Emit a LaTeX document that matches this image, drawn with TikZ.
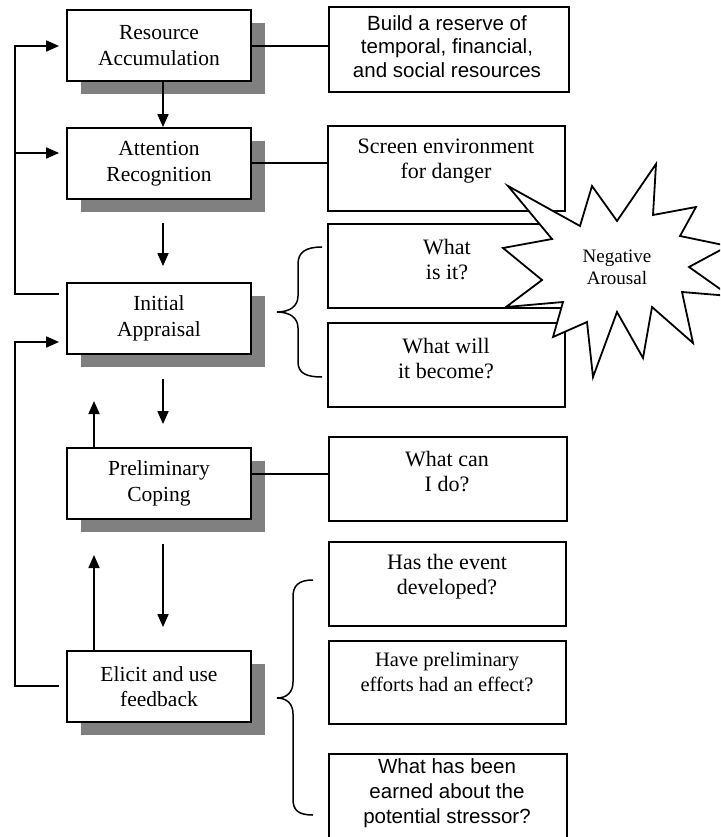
\documentclass[tikz,border=0pt]{standalone}
\usepackage{fontspec}
\setmainfont{Liberation Serif}
\newfontfamily\sansf{Liberation Sans}
\usetikzlibrary{arrows.meta,shadows}
\definecolor{shadowgray}{RGB}{128,128,128}
\begin{document}
\begin{tikzpicture}[x=1pt,y=-1pt,
  lbox/.style={draw, fill=white, line width=1.8pt, minimum width=184pt, minimum height=71pt, inner sep=0pt, align=center, font=\fontsize{21.5}{25.5}\selectfont, drop shadow={shadow xshift=13.5pt, shadow yshift=-13pt, fill=shadowgray, opacity=1}},
  rbox/.style={draw, fill=white, line width=1.8pt, minimum width=237pt, minimum height=84pt, inner sep=0pt},
  rtext/.style={inner sep=0pt, align=center, font=\fontsize{22}{25}\selectfont},
  stext/.style={inner sep=0pt, align=center, font=\sansf\fontsize{20.5}{23.5}\selectfont},
  conn/.style={line width=1.7pt},
  arr/.style={line width=1.7pt, -{Triangle[length=13pt,width=11pt]}},
  brace/.style={line width=1.5pt},
  star/.style={draw, fill=white, line width=1.8pt, line join=miter}
]
\useasboundingbox (0,0) rectangle (720,837);
\clip (0,0) rectangle (720,837);

% left column
\node[lbox] (RA) at (159,45.5) {Resource\\Accumulation};
\node[lbox] (AR) at (159,163.5) {Attention\\Recognition};
\node[lbox] (IA) at (159,318.5) {Initial\\Appraisal};
\node[lbox] (PC) at (159,483.5) {Preliminary\\Coping};
\node[lbox] (EL) at (159,686.5) {Elicit and use\\feedback};

% right column
\node[rbox, minimum width=240pt, minimum height=85pt] (BR) at (449,49.5) {};
\node[stext] (BRt) at (447,46.5) {Build a reserve of\\temporal, financial,\\and social resources};
\node[rbox, minimum height=85pt] (SC) at (446.5,168.5) {};
\node[rtext] (SCt) at (446,161.5) {Screen environment\\for danger};
\node[rbox] (WI) at (446.5,266) {};
\node[rtext] (WIt) at (447,259.5) {What\\is it?};
\node[rbox] (WW) at (446.5,365) {};
\node[rtext] (WWt) at (446,358.5) {What will\\it become?};
\node[rbox, minimum width=238pt] (WC) at (448,479) {};
\node[rtext] (WCt) at (447,472) {What can\\I do?};
\node[rbox] (HE) at (447.5,584) {};
\node[rtext] (HEt) at (447,576.5) {Has the event\\developed?};
\node[rbox, minimum height=83pt] (HP) at (447.5,682.5) {};
\node[rtext, font=\fontsize{20.5}{25}\selectfont] (HPt) at (447,672.5) {Have preliminary\\efforts had an effect?};
\node[rbox, minimum width=238pt, minimum height=96pt] (WH) at (448,802) {};
\node[stext, font=\sansf\fontsize{20.5}{25}\selectfont] (WHt) at (447,793) {What has been\\earned about the\\potential stressor?};

% horizontal connectors
\draw[conn] ([yshift=-0.5pt]RA.east) -- ([yshift=-0.5pt]RA.east -| BR.west);
\draw[conn] ([yshift=0.5pt]AR.east) -- ([yshift=0.5pt]AR.east -| SC.west);
\draw[conn] ([yshift=9.5pt]PC.east) -- ([yshift=9.5pt]PC.east -| WC.west);

% downward arrows
\draw[arr] ([xshift=4pt]RA.south) -- ([xshift=4pt]AR.north);
\draw[arr, shorten <=23.5pt, shorten >=16pt] ([xshift=4pt]AR.south) -- ([xshift=4pt]IA.north);
\draw[arr, shorten <=24pt, shorten >=23pt] ([xshift=4pt]IA.south) -- ([xshift=4pt]PC.north);
\draw[arr, shorten <=24pt, shorten >=23pt] ([xshift=4pt]PC.south) -- ([xshift=4pt]EL.north);

% upward arrows
\coordinate (U1) at (94,401);
\coordinate (U2) at (94,555);
\draw[arr] (PC.north -| U1) -- (U1);
\draw[arr] (EL.north -| U2) -- (U2);

% feedback loops
\coordinate (L1) at (15,294);
\coordinate (L2) at (15,46);
\coordinate (L3) at (15,153);
\coordinate (M1) at (15,686);
\coordinate (M2) at (15,342);
\draw[arr] ([xshift=-7pt]IA.west |- L1) -- (L1) -- (L2) -- ([xshift=-7pt]RA.west |- L2);
\draw[arr] (L3) -- ([xshift=-7pt]AR.west |- L3);
\draw[arr] ([xshift=-7pt]EL.west |- M1) -- (M1) -- (M2) -- ([xshift=-7pt]IA.west |- M2);

% braces
\draw[brace] (322,247) .. controls (306,247) and (298,252) .. (298,264) -- (298,296)
  .. controls (298,306) and (290,312) .. (277,312)
  .. controls (290,312) and (298,318) .. (298,328) -- (298,362)
  .. controls (298,373) and (306,377) .. (322,377);
\draw[brace] (313,580) .. controls (298,580) and (293,586) .. (293,597) -- (293,682)
  .. controls (293,692) and (287,698) .. (277,698)
  .. controls (287,698) and (293,704) .. (293,714) -- (293,799)
  .. controls (293,810) and (298,815) .. (313,815);

% star
\draw[star] (508,186) -- (580,226) -- (592,186) -- (617,221) -- (656,164) -- (653,215)
  -- (696,207) -- (680,236) -- (728,246) -- (689,267) -- (730,296) -- (682,292)
  -- (693,343) -- (652,307) -- (643,358) -- (617,312) -- (593,377) -- (587,322)
  -- (553,337) -- (563,302) -- (506,307) -- (542,280) -- (503,248) -- (552,239) -- cycle;
\node[inner sep=0pt, align=center, font=\fontsize{19}{22}\selectfont] (NA) at (617,267) {Negative\\Arousal};
\end{tikzpicture}
\end{document}
